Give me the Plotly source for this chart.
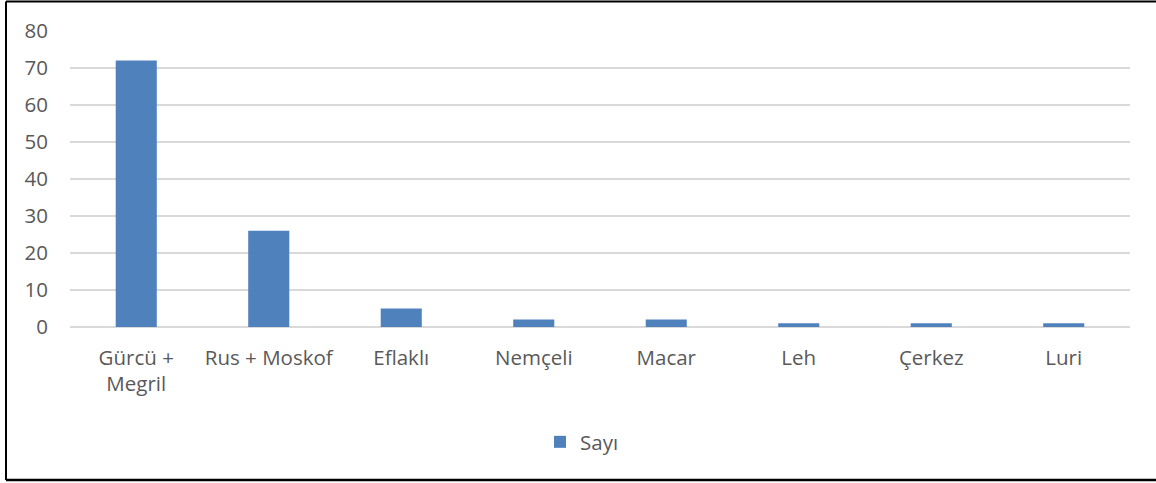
import plotly.graph_objects as go

categories = ["Gürcü +<br>Megril", "Rus + Moskof", "Eflaklı", "Nemçeli", "Macar", "Leh", "Çerkez", "Luri"]
values = [72, 26, 5, 2, 2, 1, 1, 1]
series_name = "Sayı"
y_ticks = [0, 10, 20, 30, 40, 50, 60, 70, 80]

W, H = 1156, 483
L, R, T, B = 70, 26, 31, 156
pw, ph = W - L - R, H - T - B

def px(x):
    return (x - L) / pw

def py(y):
    return (H - B - y) / ph

fig = go.Figure()
fig.add_trace(go.Bar(
    x=categories, y=values, name=series_name,
    marker=dict(color="#4F81BD", line=dict(width=0)),
    showlegend=True,
))

font = dict(family="Open Sans, Noto Sans, sans-serif", size=20.5, color="#595959")

fig.update_layout(
    width=W, height=H,
    margin=dict(l=L, r=R, t=T, b=B),
    paper_bgcolor="white", plot_bgcolor="white",
    font=font,
    bargap=0.69,
    showlegend=True,
    legend=dict(orientation="h", x=px(582), xanchor="center", y=py(442), yanchor="middle",
                font=font, itemwidth=30),
    xaxis=dict(showgrid=False, showline=False, ticks="", tickfont=font,
               ticklabelstandoff=16),
    yaxis=dict(range=[0, 80], tickvals=y_ticks, showgrid=True, gridcolor="#D9D9D9",
               gridwidth=1.5, zeroline=True, zerolinecolor="#D9D9D9", zerolinewidth=1.5,
               showline=False, ticks="", tickfont=font, ticklabelstandoff=21),
    shapes=[
        dict(type="line", xref="paper", yref="paper", x0=px(6), x1=px(6), y0=py(480), y1=py(1.5),
             line=dict(color="black", width=2)),
        dict(type="line", xref="paper", yref="paper", x0=px(6), x1=px(1170), y0=py(1.5), y1=py(1.5),
             line=dict(color="black", width=2)),
        dict(type="line", xref="paper", yref="paper", x0=px(6), x1=px(1170), y0=py(480), y1=py(480),
             line=dict(color="black", width=2.5)),
    ],
)

fig.write_html("out.html", config={"displayModeBar": False},
               post_script="document.body.style.margin='0';")
